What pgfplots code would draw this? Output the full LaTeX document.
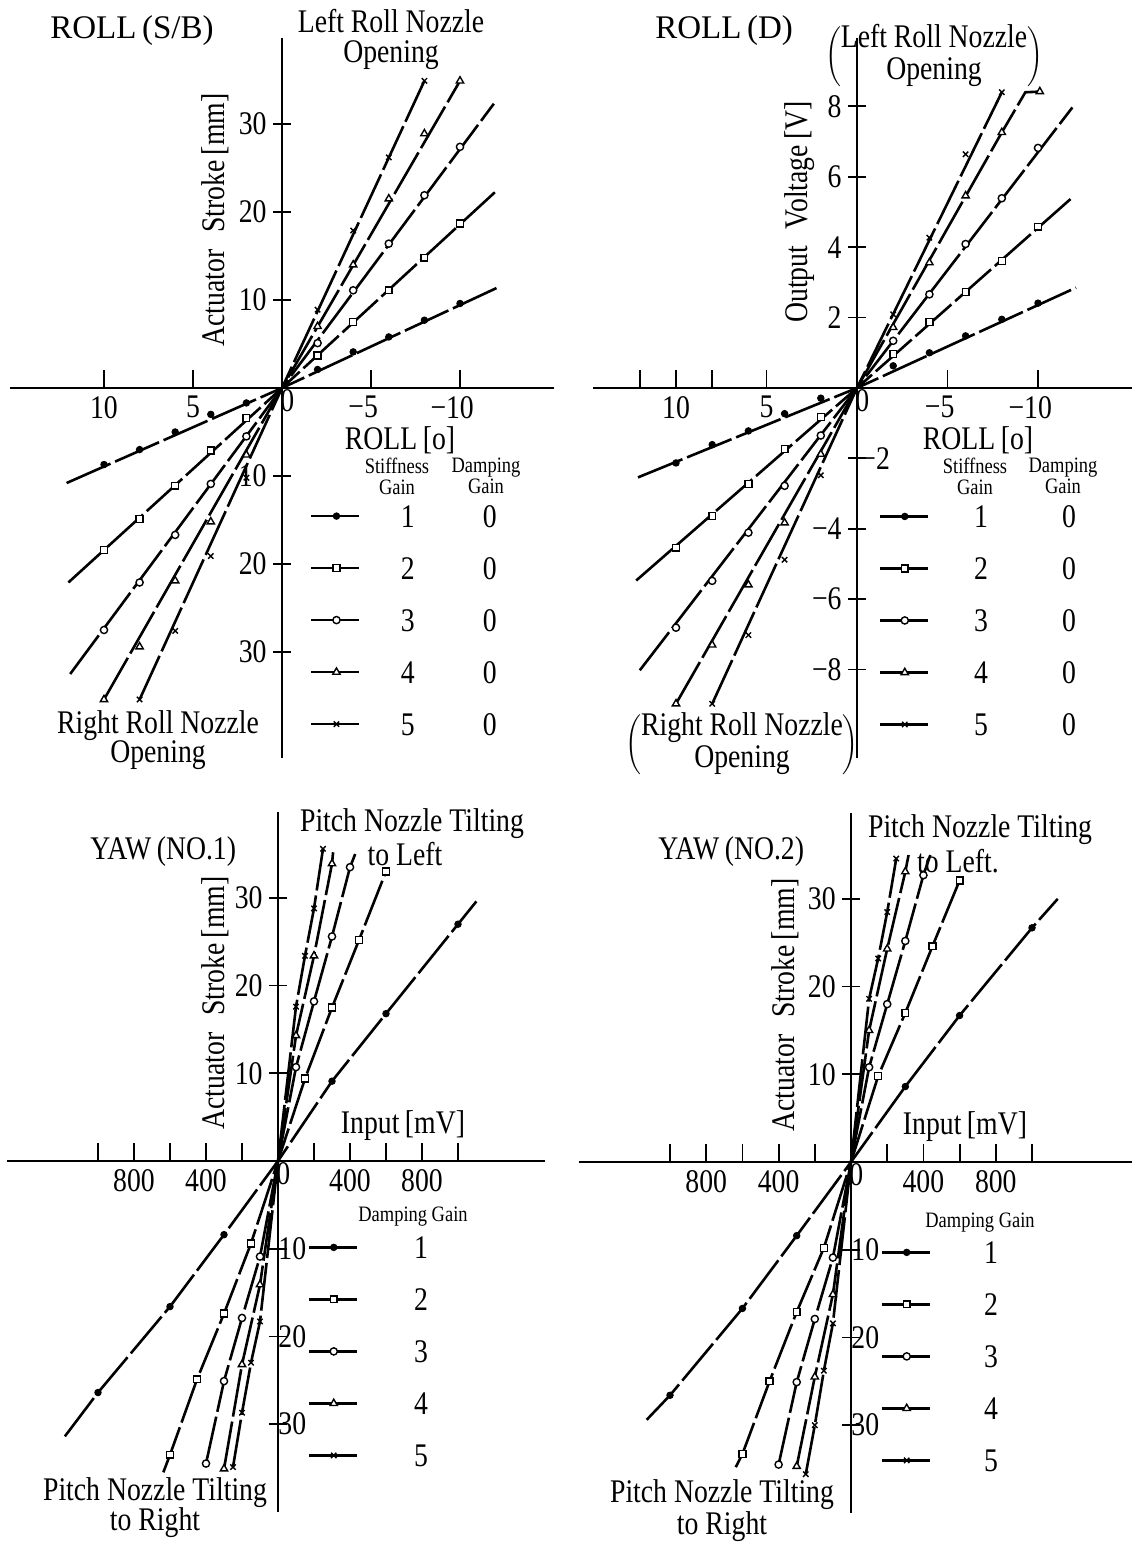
\documentclass[border=0pt]{standalone}
\usepackage{fontspec}
\setmainfont[FakeStretch=0.84]{Liberation Serif}
\newfontfamily\widefont{Liberation Serif}
\usepackage{pgfplots}
\pgfplotsset{compat=1.18}

\newcommand\bigf{\fontsize{16.5}{16}\selectfont}
\newcommand\tickf{\fontsize{16.5}{16}\selectfont}
\newcommand\smallf{\fontsize{11}{10.5}\selectfont}

% line and marker styles of the five gain settings
\tikzset{
  ln/.style={black, line width=1.3pt, dash pattern=on 24pt off 2.5pt, mark=none},
  m1/.style={mark=*, mark size=1.6pt, mark options={solid, fill=black, line width=0.5pt}},
  m2/.style={mark=square*, mark size=1.7pt, mark options={solid, fill=white, line width=0.7pt}},
  m3/.style={mark=*, mark size=1.8pt, mark options={solid, fill=white, line width=0.7pt}},
  m4/.style={mark=triangle*, mark size=2.1pt, mark options={solid, fill=white, line width=0.7pt}},
  m5/.style={mark=x, mark size=1.9pt, mark options={solid, line width=0.7pt}},
}
\pgfplotsset{
  pts/.style={only marks, forget plot},
  panel/.style={
    anchor=origin, clip=false,
    axis lines=middle,
    axis line style={-, line width=1pt},
    tick align=center, major tick length=9pt,
    tick style={black, line width=0.9pt},
    xtick style={yshift=4.5pt},
    tick label style={font=\tickf, inner sep=3pt},
    xticklabel style={yshift=3.5pt},
    legend cell align=left,
    legend style={draw=none, fill=none, anchor=north west, inner sep=0pt,
      row sep=14.5pt, font=\bigf,
      nodes={inner sep=0pt, text height=11.5pt, text depth=0pt}},
    legend image code/.code={\draw[mark repeat=2, mark phase=2, ##1]
      plot coordinates {(0pt,0pt) (12.5pt,0pt) (25pt,0pt)};},
  },
}

\begin{document}
\begin{tikzpicture}
\useasboundingbox (0,0) rectangle (566pt,773pt);
\fill[white] (0,0) rectangle (566pt,773pt);

% ---------------- ROLL (S/B) ----------------
\begin{axis}[panel, at={(141pt,579pt)}, x=8.9pt, y=4.4pt, x dir=reverse,
  xmin=-15.3, xmax=15.3, ymin=-42, ymax=39.8,
  xtick={10,5,-5,-10}, xticklabels={10,5,\llap{−}5,\llap{−}10},
  ytick={-30,-20,-10,10,20,30}, yticklabels={30,20,10,10,20,30},
  legend style={at={(0.551,0.352)}, column sep=12.5pt}]
\addplot[ln, forget plot] coordinates {(12.1,-10.8) (0,0) (-12.1,11.4)};
\addplot[pts, m1] coordinates {(2,-1.7) (4,-3.0) (6,-5.0) (8,-7.0) (10,-8.7) (-2,2.1) (-4,4.1) (-6,5.8) (-8,7.7) (-10,9.6)};
\addplot[ln, forget plot] coordinates {(12,-22.1) (0,0) (-12.1,22.5)};
\addplot[pts, m2] coordinates {(2,-3.4) (4,-7.1) (6,-11.1) (8,-14.9) (10,-18.4) (-2,3.7) (-4,7.5) (-6,11.1) (-8,14.8) (-10,18.7)};
\addplot[ln, forget plot] coordinates {(11.9,-32.5) (0,0) (-11.9,32.3)};
\addplot[pts, m3] coordinates {(2,-5.5) (4,-10.9) (6,-16.7) (8,-22.1) (10,-27.5) (-2,5.1) (-4,11.1) (-6,16.4) (-8,21.9) (-10,27.4)};
\addplot[ln, forget plot] coordinates {(10,-35.4) (0,0) (-10,34.9)};
\addplot[pts, m4] coordinates {(2,-7.6) (4,-15.2) (6,-21.9) (8,-29.4) (10,-35.4) (-2,7.0) (-4,14.0) (-6,21.5) (-8,28.9) (-10,34.9)};
\addplot[ln, forget plot] coordinates {(8,-35.4) (0,0) (-8,34.9)};
\addplot[pts, m5] coordinates {(2,-10.2) (4,-19.1) (6,-27.6) (8,-35.4) (-2,8.9) (-4,17.9) (-6,26.2) (-8,34.9)};
\addlegendimage{ln, m1}\addlegendentry{\makebox[20pt]{1}\hspace{21pt}\makebox[20pt]{0}}
\addlegendimage{ln, m2}\addlegendentry{\makebox[20pt]{2}\hspace{21pt}\makebox[20pt]{0}}
\addlegendimage{ln, m3}\addlegendentry{\makebox[20pt]{3}\hspace{21pt}\makebox[20pt]{0}}
\addlegendimage{ln, m4}\addlegendentry{\makebox[20pt]{4}\hspace{21pt}\makebox[20pt]{0}}
\addlegendimage{ln, m5}\addlegendentry{\makebox[20pt]{5}\hspace{21pt}\makebox[20pt]{0}}
\node[anchor=north west, font=\tickf, inner sep=0pt] at (axis cs:0,0) [xshift=-1pt, yshift=-0.5pt] {0};
\end{axis}

% ---------------- ROLL (D) ----------------
\begin{axis}[panel, at={(428.5pt,579pt)}, x=9.05pt, y=17.6pt, x dir=reverse,
  xmin=-15.2, xmax=14.6, ymin=-10.5, ymax=9.95,
  xtick={12,10,8,5,-5,-10}, xticklabels={,10,,5,\llap{−}5,\llap{−}10},
  ytick={-8,-6,-4,2,4,6,8}, yticklabels={−8,−6,−4,2,4,6,8},
  extra y ticks={-2}, extra y tick labels={−2},
  extra y tick style={yticklabel style={anchor=west, xshift=3pt}},
  legend style={at={(0.529,0.3515)}, column sep=15pt}]
\addplot[ln, forget plot] coordinates {(12.1,-2.54) (0,0) (-12.1,2.85)};
\addplot[pts, m1] coordinates {(2,-0.29) (4,-0.73) (6,-1.22) (8,-1.61) (10,-2.13) (-2,0.63) (-4,1.0) (-6,1.48) (-8,1.95) (-10,2.41)};
\addplot[ln, forget plot] coordinates {(12.2,-5.47) (0,0) (-12,5.46)};
\addplot[pts, m2] coordinates {(2,-0.83) (4,-1.73) (6,-2.73) (8,-3.64) (10,-4.54) (-2,0.96) (-4,1.88) (-6,2.73) (-8,3.61) (-10,4.58)};
\addplot[ln, forget plot] coordinates {(12,-8.02) (0,0) (-11.9,7.97)};
\addplot[pts, m3] coordinates {(2,-1.35) (4,-2.78) (6,-4.11) (8,-5.48) (10,-6.81) (-2,1.34) (-4,2.66) (-6,4.09) (-8,5.39) (-10,6.82)};
\addplot[ln, forget plot] coordinates {(10,-8.97) (0,0) (-8,7.26) (-9.3,8.4) (-10.1,8.42)};
\addplot[pts, m4] coordinates {(2,-1.88) (4,-3.83) (6,-5.59) (8,-7.30) (10,-8.97) (-2,1.72) (-4,3.56) (-6,5.46) (-8,7.26) (-10.1,8.42)};
\addplot[ln, forget plot] coordinates {(8,-8.97) (0,0) (-8,8.4)};
\addplot[pts, m5] coordinates {(2,-2.48) (4,-4.88) (6,-7.02) (8,-8.97) (-2,2.09) (-4,4.27) (-6,6.64) (-8,8.4)};
\addlegendimage{ln, m1}\addlegendentry{\makebox[20pt]{1}\hspace{24pt}\makebox[20pt]{0}}
\addlegendimage{ln, m2}\addlegendentry{\makebox[20pt]{2}\hspace{24pt}\makebox[20pt]{0}}
\addlegendimage{ln, m3}\addlegendentry{\makebox[20pt]{3}\hspace{24pt}\makebox[20pt]{0}}
\addlegendimage{ln, m4}\addlegendentry{\makebox[20pt]{4}\hspace{24pt}\makebox[20pt]{0}}
\addlegendimage{ln, m5}\addlegendentry{\makebox[20pt]{5}\hspace{24pt}\makebox[20pt]{0}}
\node[anchor=north west, font=\tickf, inner sep=0pt] at (axis cs:0,0) [xshift=-1pt, yshift=-0.5pt] {0};
\end{axis}

% ---------------- YAW (NO.1) ----------------
\begin{axis}[panel, at={(139pt,192.5pt)}, x=0.09pt, y=4.385pt,
  xmin=-1505, xmax=1483, ymin=-40, ymax=39.8,
  xtick={-1000,-800,-600,-400,-200,200,400,600,800,1000},
  xticklabels={,800,,400,,,400,,800,},
  ytick={10,20,30}, yticklabels={10,20,30},
  extra y ticks={-10,-20,-30}, extra y tick labels={10,20,30},
  extra y tick style={yticklabel style={anchor=west, xshift=1.5pt}},
  legend style={at={(0.5577,0.3948)}, column sep=20.5pt}]
\addplot[ln, forget plot] coordinates {(-1184,-31.4) (-1000,-26.4) (-600,-16.6) (-300,-8.4) (0,0) (300,9.1) (600,16.8) (1000,27.0) (1102,29.6)};
\addplot[pts, m1] coordinates {(-1000,-26.4) (-600,-16.6) (-300,-8.4) (300,9.1) (600,16.8) (1000,27.0)};
\addplot[ln, forget plot] coordinates {(-637,-35.5) (-600,-33.5) (-450,-24.9) (-300,-17.4) (-150,-9.4) (0,0) (150,9.4) (300,17.5) (450,25.2) (600,33.0)};
\addplot[pts, m2] coordinates {(-600,-33.5) (-450,-24.9) (-300,-17.4) (-150,-9.4) (150,9.4) (300,17.5) (450,25.2) (600,33.0)};
\addplot[ln, forget plot] coordinates {(-400,-34.5) (-300,-25.1) (-200,-17.9) (-100,-10.9) (0,0) (100,10.7) (200,18.2) (300,25.6) (400,33.5) (429,35.0)};
\addplot[pts, m3] coordinates {(-400,-34.5) (-300,-25.1) (-200,-17.9) (-100,-10.9) (100,10.7) (200,18.2) (300,25.6) (400,33.5)};
\addplot[ln, forget plot] coordinates {(-300,-35.1) (-200,-23.2) (-100,-14.1) (0,0) (100,14.3) (200,23.4) (300,33.9) (306,35.2)};
\addplot[pts, m4] coordinates {(-300,-35.1) (-200,-23.2) (-100,-14.1) (100,14.3) (200,23.4) (300,33.9)};
\addplot[ln, forget plot] coordinates {(-250,-34.9) (-200,-28.7) (-150,-23.0) (-100,-18.3) (0,0) (100,17.6) (150,23.4) (200,28.8) (250,35.6)};
\addplot[pts, m5] coordinates {(-250,-34.9) (-200,-28.7) (-150,-23.0) (-100,-18.3) (100,17.6) (150,23.4) (200,28.8) (250,35.6)};
\addlegendimage{ln, m1}\addlegendentry{\makebox[20pt]{1}}
\addlegendimage{ln, m2}\addlegendentry{\makebox[20pt]{2}}
\addlegendimage{ln, m3}\addlegendentry{\makebox[20pt]{3}}
\addlegendimage{ln, m4}\addlegendentry{\makebox[20pt]{4}}
\addlegendimage{ln, m5}\addlegendentry{\makebox[20pt]{5}}
\node[anchor=north west, font=\tickf, inner sep=0pt] at (axis cs:0,0) [xshift=-1pt, yshift=-0.5pt] {0};
\end{axis}

% ---------------- YAW (NO.2) ----------------
\begin{axis}[panel, at={(425.5pt,192pt)}, x=0.0905pt, y=4.385pt,
  xmin=-1503, xmax=1552, ymin=-40, ymax=39.8,
  xtick={-1000,-800,-600,-400,-200,200,400,600,800,1000},
  xticklabels={,800,,400,,,400,,800,},
  ytick={10,20,30}, yticklabels={10,20,30},
  extra y ticks={-10,-20,-30}, extra y tick labels={10,20,30},
  extra y tick style={yticklabel style={anchor=west, xshift=1.5pt}},
  legend style={at={(0.5444,0.3891)}, column sep=19pt}]
\addplot[ln, forget plot] coordinates {(-1129,-29.4) (-1000,-26.6) (-600,-16.7) (-300,-8.4) (0,0) (300,8.6) (600,16.7) (1000,26.7) (1142,30.0)};
\addplot[pts, m1] coordinates {(-1000,-26.6) (-600,-16.7) (-300,-8.4) (300,8.6) (600,16.7) (1000,26.7)};
\addplot[ln, forget plot] coordinates {(-637,-34.8) (-600,-33.3) (-450,-25.0) (-300,-17.1) (-150,-9.8) (0,0) (150,9.8) (300,17.0) (450,24.6) (600,32.1)};
\addplot[pts, m2] coordinates {(-600,-33.3) (-450,-25.0) (-300,-17.1) (-150,-9.8) (150,9.8) (300,17.0) (450,24.6) (600,32.1)};
\addplot[ln, forget plot] coordinates {(-400,-34.5) (-300,-25.1) (-200,-17.9) (-100,-10.9) (0,0) (100,10.8) (200,18.0) (300,25.2) (400,32.7) (438,35.0)};
\addplot[pts, m3] coordinates {(-400,-34.5) (-300,-25.1) (-200,-17.9) (-100,-10.9) (100,10.8) (200,18.0) (300,25.2) (400,32.7)};
\addplot[ln, forget plot] coordinates {(-300,-34.7) (-200,-24.5) (-100,-15.1) (0,0) (100,15.0) (200,24.3) (300,33.1) (318,35.0)};
\addplot[pts, m4] coordinates {(-300,-34.7) (-200,-24.5) (-100,-15.1) (100,15.0) (200,24.3) (300,33.1)};
\addplot[ln, forget plot] coordinates {(-250,-35.6) (-200,-30.0) (-150,-23.8) (-100,-18.4) (0,0) (100,18.6) (150,23.2) (200,28.5) (250,34.6)};
\addplot[pts, m5] coordinates {(-250,-35.6) (-200,-30.0) (-150,-23.8) (-100,-18.4) (100,18.6) (150,23.2) (200,28.5) (250,34.6)};
\addlegendimage{ln, m1}\addlegendentry{\makebox[20pt]{1}}
\addlegendimage{ln, m2}\addlegendentry{\makebox[20pt]{2}}
\addlegendimage{ln, m3}\addlegendentry{\makebox[20pt]{3}}
\addlegendimage{ln, m4}\addlegendentry{\makebox[20pt]{4}}
\addlegendimage{ln, m5}\addlegendentry{\makebox[20pt]{5}}
\node[anchor=north west, font=\tickf, inner sep=0pt] at (axis cs:0,0) [xshift=-1pt, yshift=-0.5pt] {0};
\end{axis}

% ---------------- titles, axis names and notes ----------------
\begin{scope}[x=0.5pt, y=-0.5pt, shift={(0pt,773pt)},
  every node/.style={inner sep=0pt, font=\bigf}]
  % ROLL (S/B)
  \node[anchor=base west, font=\widefont\bigf] at (50,39) {ROLL\,(S/B)};
  \node[anchor=base] at (391,33) {Left Roll Nozzle};
  \node[anchor=base] at (391,63) {Opening};
  \node[rotate=90] at (215,220) {Actuator\enspace Stroke\,[mm]};
  \node[anchor=base] at (400,450) {ROLL\,[o]};
  \node[anchor=north, align=center, font=\smallf] at (397,458) {Stiffness\\Gain};
  \node[anchor=north, align=center, font=\smallf] at (486,458) {Damping\\Gain};
  \node[anchor=north, align=center, font=\fontsize{16.5}{14.5}\selectfont] at (158,710) {Right Roll Nozzle\\Opening};
  % ROLL (D)
  \node[anchor=base west, font=\widefont\bigf] at (655,39) {ROLL\,(D)};
  \node at (934,57) {$\left(\begin{tabular}{@{}c@{}}Left Roll Nozzle\\Opening\end{tabular}\right)$};
  \node[rotate=90] at (800,212) {Output\enspace Voltage\,[V]};
  \node[anchor=base] at (978,450) {ROLL\,[o]};
  \node[anchor=north, align=center, font=\smallf] at (975,458) {Stiffness\\Gain};
  \node[anchor=north, align=center, font=\smallf] at (1063,458) {Damping\\Gain};
  \node at (742,745) {$\left(\begin{tabular}{@{}c@{}}Right Roll Nozzle\\Opening\end{tabular}\right)$};
  % YAW (NO.1)
  \node[anchor=base west] at (90,860) {YAW\,(NO.1)};
  \node[anchor=base] at (412,832) {Pitch Nozzle Tilting};
  \node[anchor=base] at (405,866) {to Left};
  \node[rotate=90] at (215,1003) {Actuator\enspace Stroke\,[mm]};
  \node[anchor=base] at (403,1134) {Input\,[mV]};
  \node[anchor=base, font=\smallf] at (413,1222) {Damping Gain};
  \node[anchor=base] at (155,1500) {Pitch Nozzle Tilting};
  \node[anchor=base] at (155,1531) {to Right};
  % YAW (NO.2)
  \node[anchor=base west] at (658,860) {YAW\,(NO.2)};
  \node[anchor=base] at (980,838) {Pitch Nozzle Tilting};
  \node[anchor=base] at (958,873) {to Left.};
  \node[rotate=90] at (785,1005) {Actuator\enspace Stroke\,[mm]};
  \node[anchor=base] at (965,1135) {Input\,[mV]};
  \node[anchor=base, font=\smallf] at (980,1228) {Damping Gain};
  \node[anchor=base] at (722,1503) {Pitch Nozzle Tilting};
  \node[anchor=base] at (722,1535) {to Right};
\end{scope}
\end{tikzpicture}
\end{document}
